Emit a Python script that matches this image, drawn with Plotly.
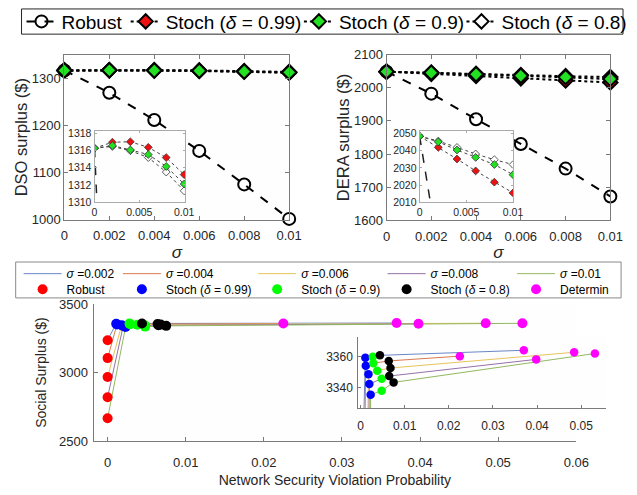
import plotly.graph_objects as go

W, H = 637, 495
FONT = "Liberation Sans, Arial, Helvetica, sans-serif"

# ---------------- top panels: surplus vs sigma ----------------
sigma = [0, 0.002, 0.004, 0.006, 0.008, 0.01]
dso_robust = [1316.3, 1269, 1211.5, 1146, 1075, 1002]
dso_stoch99 = [1316.3, 1317.0, 1317.05, 1316.4, 1315.2, 1313.2]
dso_stoch90 = [1316.3, 1316.6, 1316.1, 1315.55, 1314.15, 1312.1]
dso_stoch80 = [1316.3, 1316.5, 1316.0, 1315.2, 1313.5, 1311.3]
dera_robust = [2048.3, 1982, 1905, 1830, 1756, 1672]
dera_stoch99 = [2048.3, 2041.8, 2035.1, 2028.2, 2021.7, 2015.5]
dera_stoch90 = [2048.3, 2045.0, 2040.3, 2036.0, 2031.9, 2026.0]
dera_stoch80 = [2048.3, 2045.5, 2041.8, 2038.0, 2034.7, 2031.9]

# ---------------- bottom panel: social surplus vs violation prob ----------------
sigma_labels = ["0.002", "0.004", "0.006", "0.008", "0.01"]
sigma_colors = ["#6a86c8", "#d9794f", "#e6c45a", "#9670a8", "#93b860"]
robust_prob = [0, 0, 0, 0, 0]
robust_ss = [3239, 3108, 2970, 2823, 2669]
s99_prob = [0.0011, 0.0012, 0.0018, 0.0020, 0.0023]
s99_ss = [3359.4, 3354.2, 3348.6, 3342.3, 3335.4]
s90_prob = [0.0028, 0.0029, 0.0038, 0.0048, 0.0048]
s90_ss = [3360.0, 3355.8, 3351.0, 3345.8, 3338.0]
s80_prob = [0.0044, 0.0064, 0.0068, 0.0065, 0.0075]
s80_ss = [3360.9, 3357.3, 3352.7, 3347.5, 3343.4]
det_prob = [0.0370, 0.0225, 0.0484, 0.0398, 0.0531]
det_ss = [3364.2, 3360.4, 3362.9, 3358.3, 3362.1]

method_names = ["Robust", "Stoch (<i>δ</i> = 0.99)", "Stoch (<i>δ</i> = 0.9)",
                "Stoch (<i>δ</i> = 0.8)", "Determin"]
method_colors = ["#ff0000", "#0000ff", "#00ff00", "#000000", "#ff00ff"]
method_prob = [robust_prob, s99_prob, s90_prob, s80_prob, det_prob]
method_ss = [robust_ss, s99_ss, s90_ss, s80_ss, det_ss]


def px_x(a, b):
    return [a / W, b / W]


def px_y(top, bottom):
    return [1 - bottom / H, 1 - top / H]


fig = go.Figure()

RED = "#ee1111"
GREEN = "#22e022"


def top_panel(xa, ya, xi, yi, robust, s99, s90, s80, show):
    # main plot
    fig.add_trace(go.Scatter(
        x=sigma, y=robust, xaxis=xa, yaxis=ya, name="Robust", mode="lines+markers",
        line=dict(color="black", width=2, dash="dash"),
        marker=dict(symbol="circle-open", size=12, color="black", line=dict(width=2)),
        showlegend=show, legend="legend", cliponaxis=False))
    order = [("Stoch (<i>δ</i> = 0.99)", s99, RED, "legend12"),
             ("Stoch (<i>δ</i> = 0.8)", s80, "white", "legend14"),
             ("Stoch (<i>δ</i> = 0.9)", s90, GREEN, "legend13")]
    for name, vals, col, leg in order:
        fig.add_trace(go.Scatter(
            x=sigma, y=vals, xaxis=xa, yaxis=ya, name=name, mode="lines+markers",
            line=dict(color="black", width=2, dash="dot"),
            marker=dict(symbol="diamond", size=11, color=col, line=dict(width=2, color="black")),
            showlegend=show, legend=leg, cliponaxis=False))
    # inset
    fig.add_trace(go.Scatter(
        x=sigma, y=robust, xaxis=xi, yaxis=yi, mode="lines",
        line=dict(color="#222", width=1.5, dash="dash"), showlegend=False))
    for name, vals, col, leg in order:
        fig.add_trace(go.Scatter(
            x=sigma, y=vals, xaxis=xi, yaxis=yi, mode="lines+markers",
            line=dict(color="#444", width=1, dash="dot"),
            marker=dict(symbol="diamond", size=6, color=col, line=dict(width=0.8, color="#333")),
            showlegend=False))


top_panel("x", "y", "x2", "y2", dso_robust, dso_stoch99, dso_stoch90, dso_stoch80, True)
top_panel("x3", "y3", "x4", "y4", dera_robust, dera_stoch99, dera_stoch90, dera_stoch80, False)

# bottom panel: lines per sigma, then markers per method
for xa, ya, lw, ms, show in [("x5", "y5", 1, 10, True), ("x6", "y6", 1, 8.5, False)]:
    for i, lab in enumerate(sigma_labels):
        xs = [m[i] for m in method_prob]
        ys = [m[i] for m in method_ss]
        fig.add_trace(go.Scatter(
            x=xs, y=ys, xaxis=xa, yaxis=ya, mode="lines",
            name="<i>σ</i> =" + lab, line=dict(color=sigma_colors[i], width=lw),
            showlegend=show, legend="legend%d" % (2 + i)))
    for j, nm in enumerate(method_names):
        fig.add_trace(go.Scatter(
            x=method_prob[j], y=method_ss[j], xaxis=xa, yaxis=ya, mode="markers",
            name=nm, marker=dict(color=method_colors[j], size=ms),
            showlegend=show, legend="legend%d" % (7 + j)))

AX = "#7a7a7a"
TXT = "#262626"


def axis(domain, rng, tickvals, size=13, linecolor=AX, mirror="ticks", ticklen=4,
         title=None, anchor=None, standoff=None, tsize=14, lstand=0):
    d = dict(domain=domain, range=rng, tickvals=tickvals, showline=True, linecolor=linecolor,
             linewidth=1, mirror=mirror, ticks="inside", ticklen=ticklen, tickcolor=linecolor,
             showgrid=False, zeroline=False, tickfont=dict(size=size, color=TXT, family=FONT),
             anchor=anchor, ticklabelstandoff=lstand)
    if title is not None:
        d["title"] = dict(text=title, font=dict(size=tsize, color=TXT, family=FONT),
                          standoff=standoff)
    return d


layout = dict(
    width=W, height=H, margin=dict(l=0, r=0, t=0, b=0),
    paper_bgcolor="white", plot_bgcolor="#fefefe",
    font=dict(family=FONT, color=TXT),
    xaxis=axis(px_x(62, 293), [0, 0.01], sigma, title="<i>σ</i>", anchor="y", standoff=3,
               tsize=17, lstand=4),
    yaxis=axis(px_y(49, 219.5), [1000, 1350], [1000, 1100, 1200, 1300],
               title="DSO surplus ($)", anchor="x", standoff=0, tsize=16.5),
    xaxis2=axis(px_x(93, 186), [0, 0.0101], [0, 0.005, 0.01], size=10.5, linecolor="#aaaaaa",
                ticklen=2, anchor="y2"),
    yaxis2=axis(px_y(128, 201), [1310, 1318.3], [1310, 1312, 1314, 1316, 1318], size=10.5,
                linecolor="#aaaaaa", ticklen=2, anchor="x2"),
    xaxis3=axis(px_x(393, 623), [0, 0.01], sigma, title="<i>σ</i>", anchor="y3", standoff=3,
                tsize=17, lstand=4),
    yaxis3=axis(px_y(49, 220), [1600, 2100], [1600, 1700, 1800, 1900, 2000, 2100],
                title="DERA surplus ($)", anchor="x3", standoff=0, tsize=16.5),
    xaxis4=axis(px_x(427, 523), [0, 0.01], [0, 0.005, 0.01], size=10.5, linecolor="#aaaaaa",
                ticklen=2, anchor="y4"),
    yaxis4=axis(px_y(127.5, 201.5), [2010, 2051.5], [2010, 2020, 2030, 2040, 2050], size=10.5,
                linecolor="#aaaaaa", ticklen=2, anchor="x4"),
    xaxis5=axis(px_x(92, 588), [-0.0018, 0.06], [0, 0.01, 0.02, 0.03, 0.04, 0.05, 0.06],
                mirror=False, title="Network Security Violation Probability", anchor="y5",
                standoff=6, lstand=9),
    yaxis5=axis(px_y(306, 448), [2500, 3505], [2500, 3000, 3500], mirror=False,
                title="Social Surplus ($)", anchor="x5", standoff=9, lstand=2),
    xaxis6=axis(px_x(364, 618), [-0.0005, 0.0555], [0, 0.01, 0.02, 0.03, 0.04, 0.05],
                size=12, mirror=False, ticklen=3, anchor="y6", lstand=6),
    yaxis6=axis(px_y(340, 414), [3326.5, 3373], [3340, 3360], size=12, mirror=False,
                ticklen=3, anchor="x6", lstand=2),
    shapes=[dict(type="rect", xref="paper", yref="paper", x0=12 / W, x1=634 / W,
                 y0=1 - 300 / H, y1=1 - 263 / H, line=dict(color="#8a8a8a", width=1),
                 layer="below"),
            dict(type="rect", xref="paper", yref="paper", x0=18 / W, x1=636 / W,
                 y0=1 - 28 / H, y1=1 - 2 / H, line=dict(color="#262626", width=1),
                 layer="below")],
)

# top legend: one single-entry legend per item
top_text_x = [58, 165, 343, 510]
for name, tx in zip(["legend", "legend12", "legend13", "legend14"], top_text_x):
    layout[name] = dict(
        orientation="v", x=(tx - 40) / W, y=1 - 15 / H, xanchor="left", yanchor="middle",
        font=dict(size=19, family=FONT, color="black"), bgcolor="rgba(0,0,0,0)",
        borderwidth=0, itemwidth=30)

# bottom legend grid
text_x = [63, 165, 304, 437, 570]
for i in range(5):
    for k, yc in [(2 + i, 275), (7 + i, 291)]:
        layout["legend%d" % k] = dict(
            orientation="v", x=(text_x[i] - 48) / W, y=1 - yc / H, xanchor="left",
            yanchor="middle", font=dict(size=12, family=FONT, color="black"),
            bgcolor="rgba(0,0,0,0)", borderwidth=0, itemwidth=38)

fig.update_layout(**layout)
fig.write_html("out.html")
